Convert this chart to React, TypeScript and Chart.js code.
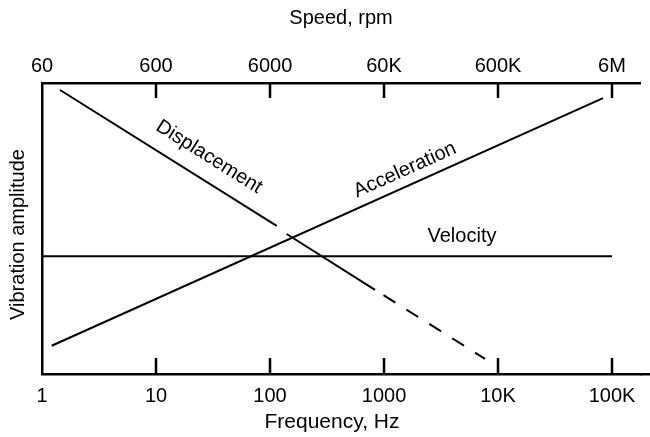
import React, { useEffect, useRef } from "react";
import { Chart, registerables } from "chart.js";

Chart.register(...registerables);

const FONT = '"Liberation Sans", Arial, Helvetica, sans-serif';

// Bottom axis: frequency (Hz), top axis: speed (rpm)
const freqTicks = [1, 10, 100, 1000, 10000, 100000];
const freqLabels = ["1", "10", "100", "1000", "10K", "100K"];
const rpmTicks = [60, 600, 6000, 60000, 600000, 6000000];
const rpmLabels = ["60", "600", "6000", "60K", "600K", "6M"];
const freqMin = 1;
const freqMax = 176000;
const rpmPerHz = 60;

// Axis titles
const xTitle = "Frequency, Hz";
const x2Title = "Speed, rpm";
const yTitle = "Vibration amplitude";

// Series (x in Hz, y = relative amplitude 0..100)
const displacementHz = [1.44, 114.5, 127, 140, 834, 7690];
const displacementAmp = [97.6, 50.9, null, 48.1, 28.9, 5.2];
const displacementDashFrom = 4;
const accelerationHz = [1.216, 83400];
const accelerationAmp = [9.7, 94.8];
const velocityHz = [1, 100000];
const velocityAmp = [40.5, 40.5];

// In-chart series labels
const seriesNames = ["Displacement", "Acceleration", "Velocity"];
const labelHz = [29.2, 1530, 4830];
const labelAmp = [74.6, 70.1, 47.1];

const toPoints = (xs: number[], ys: (number | null)[]) =>
  xs.map((x, i) => ({ x, y: ys[i] }));

const tickMarks = {
  id: "tickMarks",
  afterDraw(chart: any) {
    const ctx = chart.ctx;
    const { top, bottom, right } = chart.chartArea;
    const xs = chart.scales.x;
    const xt = chart.scales.x2;
    ctx.save();
    ctx.strokeStyle = "#000";
    ctx.lineWidth = 2.5;
    ctx.beginPath();
    freqTicks.slice(1).forEach((v) => {
      const px = xs.getPixelForValue(v);
      ctx.moveTo(px, bottom);
      ctx.lineTo(px, bottom - 16);
    });
    rpmTicks.slice(1).forEach((v) => {
      const px = xt.getPixelForValue(v);
      ctx.moveTo(px, top);
      ctx.lineTo(px, top + 15);
    });
    ctx.moveTo(right, bottom + 0.25);
    ctx.lineTo(chart.width, bottom + 0.25);
    ctx.stroke();
    ctx.restore();
  },
};

const axisTitles = {
  id: "axisTitles",
  afterDraw(chart: any) {
    const ctx = chart.ctx;
    const { left, right, top, bottom } = chart.chartArea;
    ctx.save();
    ctx.fillStyle = "#000";
    ctx.textAlign = "center";
    ctx.textBaseline = "middle";
    ctx.font = `21px ${FONT}`;
    ctx.fillText(xTitle, (left + right) / 2 - 9, chart.height - 15);
    ctx.font = `20px ${FONT}`;
    ctx.save();
    ctx.translate(18, (top + bottom) / 2 + 6);
    ctx.rotate(-Math.PI / 2);
    ctx.fillText(yTitle, 0, 0);
    ctx.restore();
    ctx.restore();
  },
};

const seriesLabels = {
  id: "seriesLabels",
  afterDatasetsDraw(chart: any) {
    const ctx = chart.ctx;
    const xs = chart.scales.x;
    const ys = chart.scales.y;
    ctx.save();
    ctx.fillStyle = "#000";
    ctx.font = `20px ${FONT}`;
    ctx.textAlign = "center";
    ctx.textBaseline = "middle";
    seriesNames.forEach((name, i) => {
      const pts = chart.getDatasetMeta(i).data;
      const a = pts[0];
      const b = pts[1];
      const angle = Math.atan2(b.y - a.y, b.x - a.x);
      const px = xs.getPixelForValue(labelHz[i]);
      const py = ys.getPixelForValue(labelAmp[i]);
      ctx.save();
      ctx.translate(px, py);
      ctx.rotate(angle);
      ctx.fillText(name, 0, 0);
      ctx.restore();
    });
    ctx.restore();
  },
};

export default function App() {
  const ref = useRef<HTMLCanvasElement | null>(null);

  useEffect(() => {
    if (!ref.current) return;
    const font = { family: FONT, size: 20 };
    const chart = new Chart(ref.current, {
      type: "line",
      data: {
        datasets: [
          {
            label: "Displacement",
            data: toPoints(displacementHz, displacementAmp),
            borderColor: "#000",
            borderWidth: 2,
            pointRadius: 0,
            spanGaps: false,
            segment: {
              borderDash: (c: any) =>
                c.p0DataIndex >= displacementDashFrom ? [14, 13] : undefined,
              borderDashOffset: (c: any) =>
                c.p0DataIndex >= displacementDashFrom ? 17 : 0,
            },
          } as any,
          {
            label: "Acceleration",
            data: toPoints(accelerationHz, accelerationAmp),
            borderColor: "#000",
            borderWidth: 2,
            pointRadius: 0,
          },
          {
            label: "Velocity",
            data: toPoints(velocityHz, velocityAmp),
            borderColor: "#000",
            borderWidth: 2,
            pointRadius: 0,
          },
        ],
      },
      options: {
        responsive: false,
        animation: false,
        devicePixelRatio: 1,
        layout: { padding: { left: 0, right: 10, top: 0, bottom: 0 } },
        plugins: { legend: { display: false }, tooltip: { enabled: false } },
        scales: {
          x: {
            type: "logarithmic",
            position: "bottom",
            min: freqMin,
            max: freqMax,
            afterBuildTicks: (s: any) => {
              s.ticks = freqTicks.map((v) => ({ value: v }));
            },
            afterFit: (s: any) => {
              s.height = 63;
            },
            ticks: {
              autoSkip: false,
              maxRotation: 0,
              padding: 10,
              color: "#000",
              font,
              callback: (v: any) => freqLabels[freqTicks.indexOf(Number(v))],
            },
            grid: { display: false, drawTicks: false },
            border: { display: true, color: "#000", width: 2.5 },
            title: { display: false },
          },
          x2: {
            type: "logarithmic",
            position: "top",
            min: freqMin * rpmPerHz,
            max: freqMax * rpmPerHz,
            afterBuildTicks: (s: any) => {
              s.ticks = rpmTicks.map((v) => ({ value: v }));
            },
            afterFit: (s: any) => {
              s.height = 83;
            },
            ticks: {
              autoSkip: false,
              maxRotation: 0,
              padding: 5,
              color: "#000",
              font,
              callback: (v: any) => rpmLabels[rpmTicks.indexOf(Number(v))],
            },
            grid: { display: false, drawTicks: false },
            border: { display: true, color: "#000", width: 2.5 },
            title: {
              display: true,
              text: x2Title,
              color: "#000",
              font,
              padding: { top: 6, bottom: 0 },
            },
          },
          y: {
            type: "linear",
            min: 0,
            max: 100,
            afterFit: (s: any) => {
              s.width = 42;
            },
            ticks: { display: false },
            grid: { display: false, drawTicks: false },
            border: { display: true, color: "#000", width: 2.5 },
            title: { display: false },
          },
        },
      } as any,
      plugins: [tickMarks, axisTitles, seriesLabels],
    });
    return () => chart.destroy();
  }, []);

  return (
    <div style={{ position: "absolute", left: 0, top: 0, width: 650, height: 437, background: "#fff" }}>
      <canvas ref={ref} width={650} height={437} style={{ display: "block" }} />
    </div>
  );
}
